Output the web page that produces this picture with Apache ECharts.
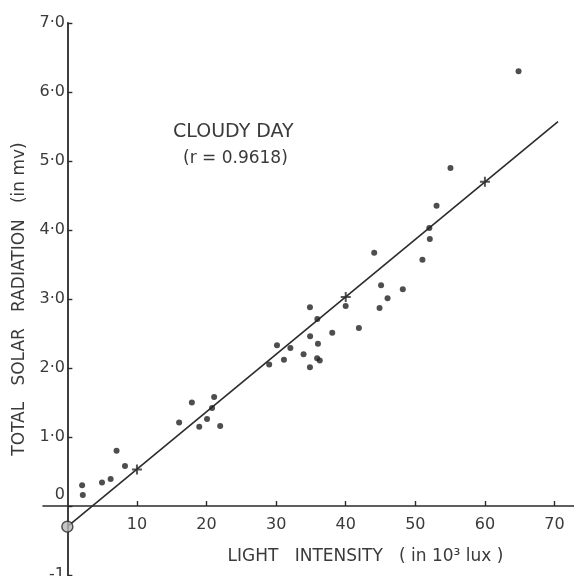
<!DOCTYPE html>
<html>
<head>
<meta charset="utf-8">
<title>Cloudy day - solar radiation vs light intensity</title>
<script src="https://cdn.jsdelivr.net/npm/echarts@6/dist/echarts.min.js"></script>
<style>
  html, body { margin: 0; padding: 0; background: #fff; }
  #main { width: 574px; height: 576px; }
</style>
</head>
<body>
<div id="main"></div>
<script type="text/javascript">
// light intensity (10^3 lux) and total solar radiation (mv)
var lightX = [2.12, 2.22, 4.98, 6.22, 7.07, 8.28, 16.06, 17.89, 18.95, 20.07, 20.79, 21.09, 21.96,
  29.0, 30.12, 31.12, 32.05, 33.94, 34.86, 34.88, 34.86, 35.89, 36.27, 35.92, 36.01, 38.06,
  39.99, 41.89, 44.09, 44.86, 45.08, 46.01, 48.2, 51.02, 52.08, 52.01, 53.05, 55.05, 64.83];
var radiationY = [0.30, 0.16, 0.34, 0.39, 0.80, 0.58, 1.21, 1.50, 1.15, 1.26, 1.42, 1.58, 1.16,
  2.05, 2.33, 2.12, 2.29, 2.20, 2.01, 2.46, 2.88, 2.14, 2.11, 2.71, 2.35, 2.51,
  2.90, 2.58, 3.67, 2.87, 3.20, 3.01, 3.14, 3.57, 3.87, 4.03, 4.35, 4.90, 6.30];

// regression line (ends) and the points it was drawn through
var fitLine = [[0, -0.30], [70.5, 5.57]];
var fitMarks = [[10, 0.53], [40, 3.03], [60, 4.70]];
var interceptMark = [[0, -0.30]];

var xTickValues = [10, 20, 30, 40, 50, 60, 70];

var ink = '#2b2b2b';
var textInk = '#3a3a3a';

var points = lightX.map(function (x, i) { return [x, radiationY[i]]; });

var chartDom = document.getElementById('main');
var myChart = echarts.init(chartDom);
var option;

// labels stay at the grid edges, so margins pull them back to the zero lines
option = {
  animation: false,
  backgroundColor: '#fff',
  textStyle: { fontFamily: 'DejaVu Sans' },
  grid: {
    left: 43,
    right: 0,
    top: 23,
    bottom: 1,
    containLabel: false,
    outerBoundsMode: 'none'
  },
  xAxis: {
    type: 'value',
    min: -3.5,
    max: 72.8,
    name: 'LIGHT   INTENSITY   ( in 10³ lux )',
    nameLocation: 'middle',
    nameMoveOverlap: false,
    nameGap: -27,
    nameTextStyle: { fontSize: 17, color: textInk, padding: [0, 0, 0, 114] },
    splitLine: { show: false },
    axisLine: { onZero: true, lineStyle: { color: ink, width: 1.6 } },
    axisTick: { inside: true, length: 5, customValues: xTickValues, lineStyle: { color: ink, width: 1.4 } },
    axisLabel: { customValues: xTickValues, margin: -58, fontSize: 16, color: textInk }
  },
  yAxis: {
    type: 'value',
    min: -1,
    max: 7,
    interval: 1,
    name: 'TOTAL   SOLAR   RADIATION   (in mv)',
    nameLocation: 'middle',
    nameRotate: 90,
    nameMoveOverlap: false,
    nameGap: 15,
    nameTextStyle: { fontSize: 17, color: textInk },
    splitLine: { show: false },
    axisLine: { onZero: true, lineStyle: { color: ink, width: 1.8 } },
    axisTick: { inside: true, length: 5, lineStyle: { color: ink, width: 1.4 } },
    axisLabel: {
      margin: -22,
      fontSize: 16,
      color: textInk,
      formatter: function (v) {
        if (v === 0) return '{z|0}';
        if (v === -1) return '-1';
        return v.toFixed(1).replace('.', '·');
      },
      rich: {
        z: { fontSize: 16, color: textInk, padding: [0, 0, 22, 0] }
      }
    }
  },
  graphic: [
    {
      type: 'text',
      left: 173,
      top: 123,
      style: { text: 'CLOUDY DAY', fontFamily: 'DejaVu Sans', fontSize: 19, fill: textInk }
    },
    {
      type: 'text',
      left: 183,
      top: 150,
      style: { text: '(r = 0.9618)', fontFamily: 'DejaVu Sans', fontSize: 17, fill: textInk }
    }
  ],
  series: [
    {
      name: 'fit',
      type: 'line',
      data: fitLine,
      symbol: 'none',
      lineStyle: { color: ink, width: 1.6 },
      z: 2
    },
    {
      name: 'fit points',
      type: 'scatter',
      data: fitMarks,
      symbol: 'path://M4,0H6V4H10V6H6V10H4V6H0V4H4Z',
      symbolSize: 10,
      itemStyle: { color: ink },
      z: 3
    },
    {
      name: 'intercept',
      type: 'scatter',
      data: interceptMark,
      symbol: 'circle',
      symbolSize: 11,
      itemStyle: { color: '#b8b8b8', borderColor: ink, borderWidth: 1.5 },
      z: 3
    },
    {
      name: 'cloudy day',
      type: 'scatter',
      data: points,
      symbol: 'circle',
      symbolSize: 6,
      itemStyle: { color: '#222' },
      z: 4
    }
  ]
};

option && myChart.setOption(option);
</script>
</body>
</html>
